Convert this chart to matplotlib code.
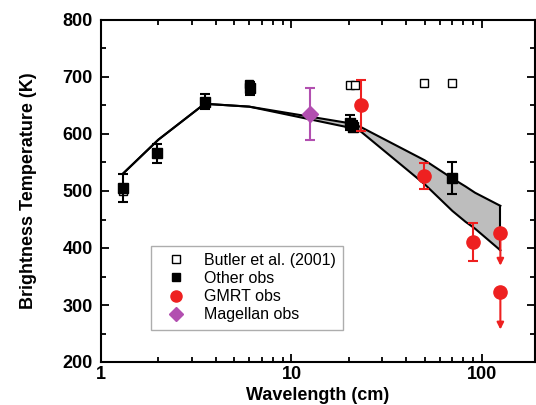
import numpy as np
import matplotlib.pyplot as plt
from matplotlib.lines import Line2D
from matplotlib.ticker import MultipleLocator, LogLocator, NullFormatter, FixedLocator, FixedFormatter

plt.rcParams['font.family'] = ['Liberation Sans', 'DejaVu Sans']

# model band (wavelength cm, upper / lower temperature K)
band_lam = [1.3, 2.0, 3.5, 6.0, 21.0, 23.2, 50.0, 70.0, 82.0, 92.0, 125.0]
band_upper = [530, 590, 653, 648, 618, 612, 554, 522, 508, 497, 474]
band_lower = [530, 590, 653, 648, 610, 604, 512, 465, 446, 434, 396]

# Butler et al. (2001)
butler_lam = [1.3, 6.0, 20.2, 21.5, 49.5, 69.5]
butler_t = [500, 688, 686, 686, 690, 690]

# other observations
other_lam = [1.3, 1.97, 3.5, 6.05, 20.2, 21.0, 69.5]
other_t = [505, 566, 657, 680, 620, 613, 523]
other_err = [25, 17, 14, 12, 13, 10, 28]

# GMRT observations
gmrt_lam = [23.2, 49.5, 90.0]
gmrt_t = [650, 527, 410]
gmrt_lo = [45, 23, 33]
gmrt_hi = [45, 22, 33]

# GMRT upper limits
lim_lam = [125.0, 125.0]
lim_t = [427, 322]
lim_len = [58, 65]

# Magellan
mag_lam = [12.5]
mag_t = [635]
mag_err = [45]

red = '#ee2020'
purple = '#b24fb0'

fig = plt.figure(figsize=(5.36, 4.05), dpi=100)
ax = fig.add_axes([101 / 536, 43 / 405, 434 / 536, 342 / 405])

ax.fill_between(band_lam, band_lower, band_upper, color='#bdbdbd', lw=0, zorder=1)
ax.plot(band_lam, band_upper, color='black', lw=1.5, zorder=2)
ax.plot(band_lam, band_lower, color='black', lw=1.5, zorder=2)
ax.plot([band_lam[-1], band_lam[-1]], [band_lower[-1], band_upper[-1]], color='black', lw=1.5, zorder=2)

ax.plot(butler_lam, butler_t, 's', mfc='white', mec='black', ms=6, mew=1.0,
        ls='none', zorder=3)
ax.errorbar(other_lam, other_t, yerr=other_err, fmt='s', color='black', ms=7,
            capsize=3.5, elinewidth=1.5, capthick=1.5, zorder=4)
ax.errorbar(gmrt_lam, gmrt_t, yerr=[gmrt_lo, gmrt_hi], fmt='o', color=red, ms=9.5,
            capsize=3.5, elinewidth=1.5, capthick=1.5, zorder=5)
ax.plot(lim_lam, lim_t, 'o', color=red, ms=9.5, zorder=5)
for lx, ly, ll in zip(lim_lam, lim_t, lim_len):
    ax.annotate('', xy=(lx, ly - ll), xytext=(lx, ly),
                arrowprops=dict(arrowstyle='-|>', color=red, lw=1.5,
                                mutation_scale=10, shrinkA=0, shrinkB=0), zorder=5)
ax.errorbar(mag_lam, mag_t, yerr=mag_err, fmt='D', color=purple, ms=8,
            capsize=3.5, elinewidth=1.5, capthick=1.5, zorder=4)

ax.set_xscale('log')
ax.set_xlim(1, 190)
ax.set_ylim(200, 800)
ax.xaxis.set_major_locator(FixedLocator([1, 10, 100]))
ax.xaxis.set_major_formatter(FixedFormatter(['1', '10', '100']))
ax.xaxis.set_minor_locator(LogLocator(base=10, subs=np.arange(2, 10)))
ax.xaxis.set_minor_formatter(NullFormatter())
ax.yaxis.set_major_locator(MultipleLocator(100))
ax.yaxis.set_minor_locator(MultipleLocator(50))
ax.tick_params(which='both', direction='in', top=True, right=True, width=1.3)
ax.tick_params(which='major', length=6, labelsize=13)
ax.tick_params(axis='y', which='major', pad=6)
ax.tick_params(axis='x', which='major', pad=3)
ax.tick_params(which='minor', length=3.5)
for lab in ax.get_xticklabels() + ax.get_yticklabels():
    lab.set_fontweight('bold')
for sp in ax.spines.values():
    sp.set_linewidth(1.5)

ax.set_xlabel('Wavelength (cm)', fontsize=13, fontweight='bold', labelpad=3)
ax.set_ylabel('Brightness Temperature (K)', fontsize=13, fontweight='bold', labelpad=18)

handles = [
    Line2D([], [], marker='s', ls='none', mfc='white', mec='black', ms=6, mew=1.0),
    Line2D([], [], marker='s', ls='none', color='black', ms=6),
    Line2D([], [], marker='o', ls='none', color=red, ms=8),
    Line2D([], [], marker='D', ls='none', color=purple, ms=7),
]
labels = ['Butler et al. (2001)', 'Other obs', 'GMRT obs', 'Magellan obs']
leg = ax.legend(handles, labels, loc='lower left', bbox_to_anchor=(0.115, 0.095), fontsize=11.5,
                frameon=True, fancybox=False, edgecolor='#999999', handletextpad=0.7,
                labelspacing=0.2, borderpad=0.45, handlelength=2.2, borderaxespad=0)
leg.get_frame().set_linewidth(1.0)

fig.savefig('out.png', dpi=100)
